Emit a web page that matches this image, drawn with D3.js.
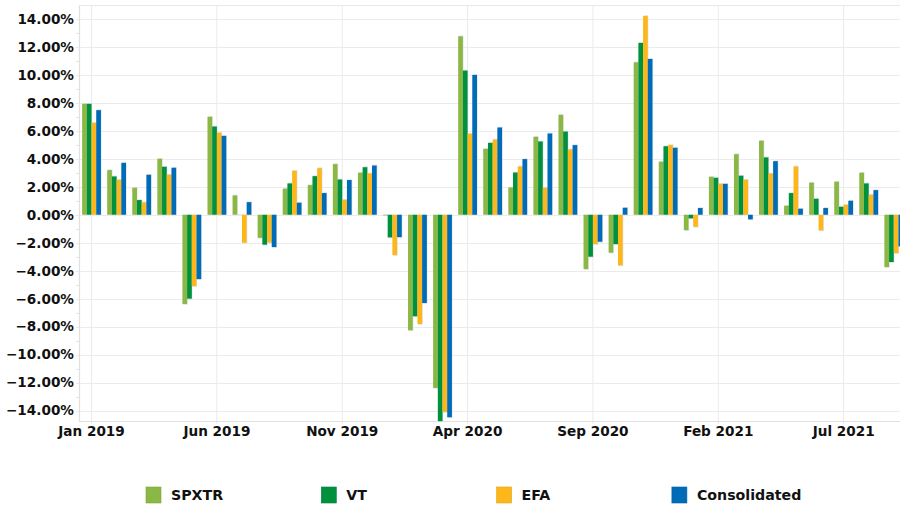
<!DOCTYPE html>
<html>
<head>
<meta charset="utf-8">
<script src="https://cdn.jsdelivr.net/npm/d3@7"></script>
<style>
  html, body { margin: 0; padding: 0; background: #fff; }
  svg { display: block; font-family: "DejaVu Sans", sans-serif; }
</style>
</head>
<body>
<svg id="chart" width="900" height="507"></svg>
<script>
const months = ["2019-01","2019-02","2019-03","2019-04","2019-05","2019-06","2019-07","2019-08","2019-09","2019-10","2019-11","2019-12",
  "2020-01","2020-02","2020-03","2020-04","2020-05","2020-06","2020-07","2020-08","2020-09","2020-10","2020-11","2020-12",
  "2021-01","2021-02","2021-03","2021-04","2021-05","2021-06","2021-07","2021-08","2021-09"];
const seriesNames = ["SPXTR", "VT", "EFA", "Consolidated"];
const seriesColors = ["#8bb845", "#00913f", "#fdb71a", "#006bb6"];
const spxtr = [7.93, 3.19, 1.93, 4.00, -6.38, 7.00, 1.38, -1.65, 1.86, 2.12, 3.62, 3.00,
  -0.04, -8.26, -12.38, 12.76, 4.71, 1.95, 5.57, 7.14, -3.88, -2.71, 10.90, 3.79,
  -1.10, 2.71, 4.33, 5.29, 0.64, 2.29, 2.36, 3.00, -3.74];
const vt = [7.93, 2.74, 1.05, 3.43, -6.00, 6.31, 0.00, -2.14, 2.24, 2.76, 2.52, 3.40,
  -1.62, -7.26, -14.76, 10.31, 5.14, 3.02, 5.24, 5.95, -3.00, -2.10, 12.29, 4.90,
  -0.26, 2.64, 2.79, 4.10, 1.55, 1.14, 0.57, 2.24, -3.38];
const efa = [6.57, 2.50, 0.88, 2.86, -5.10, 5.86, -2.00, -1.98, 3.14, 3.33, 1.07, 2.95,
  -2.88, -7.81, -14.10, 5.79, 5.38, 3.45, 1.93, 4.67, -2.10, -3.62, 14.21, 4.98,
  -0.86, 2.21, 2.50, 2.95, 3.45, -1.12, 0.71, 1.43, -2.74];
const consolidated = [7.48, 3.71, 2.86, 3.36, -4.60, 5.64, 0.90, -2.31, 0.86, 1.55, 2.48, 3.52,
  -1.60, -6.31, -14.48, 10.00, 6.24, 3.98, 5.81, 4.98, -1.93, 0.50, 11.14, 4.79,
  0.48, 2.21, -0.33, 3.83, 0.43, 0.48, 1.00, 1.76, -2.26];
const yTicks = [-14, -12, -10, -8, -6, -4, -2, 0, 2, 4, 6, 8, 10, 12, 14];
const yMinorTicks = [-13, -11, -9, -7, -5, -3, -1, 1, 3, 5, 7, 9, 11, 13];
const xTickMonths = ["2019-01", "2019-06", "2019-11", "2020-04", "2020-09", "2021-02", "2021-07"];

const seriesValues = [spxtr, vt, efa, consolidated];
const parseMonth = d3.timeParse("%Y-%m");
const fmtMonth = d3.timeFormat("%b %Y");

const svg = d3.select("#chart");
const pLeft = 79, pRight = 906.3, pTop = 5, pBottom = 421;

const x = d3.scaleBand().domain(months).range([pLeft, pRight]).paddingInner(0.25).paddingOuter(0.125);
const xs = d3.scaleBand().domain(seriesNames).range([0, x.bandwidth()]);
const y = d3.scaleLinear().domain([-14.75, 15]).range([pBottom, pTop]);

// gridlines
const grid = svg.append("g");
grid.selectAll("line.h").data(yTicks).join("line")
  .attr("x1", pLeft - 3).attr("x2", 900)
  .attr("y1", d => Math.round(y(d)) + 0.5).attr("y2", d => Math.round(y(d)) + 0.5)
  .attr("stroke", "#ebebeb").attr("stroke-width", 1);
grid.selectAll("line.m").data(yMinorTicks).join("line")
  .attr("x1", pLeft - 3).attr("x2", pLeft)
  .attr("y1", d => Math.round(y(d)) + 0.5).attr("y2", d => Math.round(y(d)) + 0.5)
  .attr("stroke", "#e3e3e3").attr("stroke-width", 1);
grid.selectAll("line.v").data(xTickMonths).join("line")
  .attr("x1", d => x(d) + x.bandwidth() / 2).attr("x2", d => x(d) + x.bandwidth() / 2)
  .attr("y1", pTop).attr("y2", pBottom + 3)
  .attr("stroke", "#ebebeb").attr("stroke-width", 1);
// frame
grid.append("line").attr("x1", pLeft + 0.5).attr("x2", pLeft + 0.5).attr("y1", pTop).attr("y2", pBottom + 0.5)
  .attr("stroke", "#e0e0e0").attr("stroke-width", 1.2);
grid.append("line").attr("x1", pLeft).attr("x2", 900).attr("y1", pBottom + 0.5).attr("y2", pBottom + 0.5)
  .attr("stroke", "#e0e0e0").attr("stroke-width", 1.2);
grid.append("line").attr("x1", pLeft).attr("x2", 900).attr("y1", pTop + 0.5).attr("y2", pTop + 0.5)
  .attr("stroke", "#e8e8e8").attr("stroke-width", 1.2);

// bars
const rowsFor = (m, i) => seriesNames.map((s, k) => ({ s, v: seriesValues[k][i], c: seriesColors[k] }));
const groups = svg.append("g").selectAll("g").data(months).join("g")
  .attr("transform", d => `translate(${x(d)},0)`);
groups.selectAll("rect.sh").data(rowsFor)
  .join("rect").attr("class", "sh")
  .attr("x", d => xs(d.s) + 0.6)
  .attr("y", d => Math.min(y(d.v), y(0)) - (d.v >= 0 ? 0.8 : 0))
  .attr("width", xs.bandwidth())
  .attr("height", d => Math.abs(y(d.v) - y(0)) + 0.8)
  .attr("fill", "#d6dbe0").attr("opacity", 0.8);
groups.selectAll("rect.b").data(rowsFor)
  .join("rect").attr("class", "b")
  .attr("x", d => xs(d.s))
  .attr("y", d => Math.min(y(d.v), y(0)))
  .attr("width", xs.bandwidth())
  .attr("height", d => Math.abs(y(d.v) - y(0)))
  .attr("fill", d => d.c);

// y axis labels
const yAxis = d3.axisLeft(y).tickValues(yTicks).tickFormat(d => d3.format(".2f")(d) + "%").tickSize(0).tickPadding(5);
svg.append("g").attr("transform", `translate(${pLeft},0)`).call(yAxis)
  .call(g => g.select(".domain").remove())
  .selectAll("text").attr("font-size", 13.6).attr("font-weight", "bold").attr("fill", "#111")
  .attr("font-family", "DejaVu Sans, sans-serif");

// x axis labels
const xAxis = d3.axisBottom(x).tickValues(xTickMonths).tickFormat(d => fmtMonth(parseMonth(d))).tickSize(0).tickPadding(5);
svg.append("g").attr("transform", `translate(0,${pBottom})`).call(xAxis)
  .call(g => g.select(".domain").remove())
  .selectAll("text").attr("font-size", 13.6).attr("font-weight", "bold").attr("fill", "#111")
  .attr("font-family", "DejaVu Sans, sans-serif");

// legend
const legend = svg.append("g").selectAll("g").data(seriesNames).join("g")
  .attr("transform", (d, i) => `translate(${146 + i * 175.3},487)`);
legend.append("rect").attr("width", 15).attr("height", 16)
  .attr("fill", (d, i) => seriesColors[i])
  .attr("stroke", (d, i) => d3.color(seriesColors[i]).darker(0.3)).attr("stroke-width", 0.6);
legend.append("text").attr("x", 25).attr("y", 13).text(d => d)
  .attr("font-size", 14.2).attr("font-weight", "bold").attr("fill", "#111")
  .attr("font-family", "DejaVu Sans, sans-serif");
</script>
</body>
</html>
